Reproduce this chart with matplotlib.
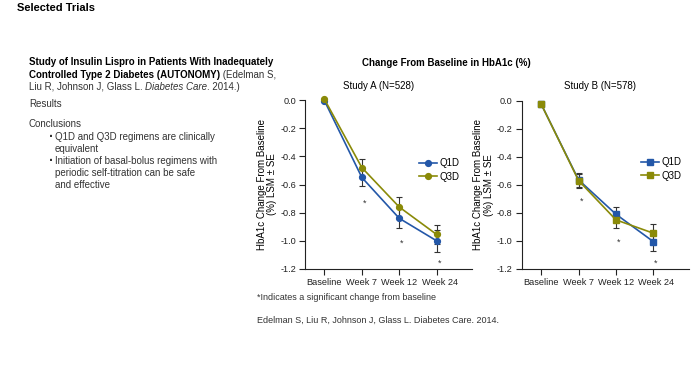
import matplotlib
matplotlib.use("Agg")
import matplotlib.pyplot as plt
import matplotlib.transforms as mtransforms
import numpy as np

plt.rcParams['font.family'] = ['Liberation Sans', 'DejaVu Sans']

timepoints = ["Baseline", "Week 7", "Week 12", "Week 24"]
series_names = ["Q1D", "Q3D"]

# Study A (N=528)
a_q1d = [-0.005, -0.55, -0.84, -1.00]
a_q1d_se = [0.0, 0.06, 0.07, 0.08]
a_q3d = [0.005, -0.48, -0.76, -0.955]
a_q3d_se = [0.0, 0.06, 0.07, 0.07]
a_sig = [None, -0.72, -1.01, -1.15]

# Study B (N=578)
b_q1d = [-0.025, -0.565, -0.81, -1.005]
b_q1d_se = [0.0, 0.05, 0.05, 0.07]
b_q3d = [-0.025, -0.57, -0.85, -0.945]
b_q3d_se = [0.0, 0.05, 0.055, 0.065]
b_sig = [None, -0.71, -1.00, -1.15]

yticks = [0.0, -0.2, -0.4, -0.6, -0.8, -1.0, -1.2]

c_q1d = "#2357a8"
c_q3d = "#8a8a08"
c_err = "#333333"

W, H = 700, 375
fig = plt.figure(figsize=(7, 3.75), dpi=100)

def fx(px):
    return px / W

def fy(py):
    return 1 - py / H

def draw(ax, q1, q1se, q3, q3se, sig, marker, title, title_x, xlim, legend_pos):
    x = np.arange(len(timepoints))
    for vals, se, col, name in [(q1, q1se, c_q1d, "Q1D"), (q3, q3se, c_q3d, "Q3D")]:
        ax.errorbar(x[1:], vals[1:], yerr=se[1:], fmt='none', ecolor=c_err,
                    elinewidth=0.8, capsize=2.5, capthick=0.8, zorder=2, clip_on=False)
        ax.plot(x, vals, color=col, marker=marker, markersize=4.2, linewidth=1.2,
                label=name, zorder=3, clip_on=False)
    for xi, s in zip(x, sig):
        if s is not None:
            ax.text(xi + 0.07, s - 0.01, "*", fontsize=6.5, ha='center', va='center', color='#333333')
    ax.set_xlim(*xlim)
    ax.set_ylim(-1.2, 0.0)
    ax.set_yticks(yticks)
    ax.set_yticklabels([f"{t:.1f}".replace("-0.0", "0.0") for t in yticks])
    ax.set_xticks(x)
    ax.set_xticklabels(timepoints)
    for s in ['top', 'right']:
        ax.spines[s].set_visible(False)
    for s in ['left', 'bottom']:
        ax.spines[s].set_linewidth(0.8)
        ax.spines[s].set_color('#222222')
    ax.tick_params(axis='both', labelsize=6.6, length=4, width=0.8, pad=2.5, colors='#222222')
    lbl = ax.get_xticklabels()[-1]
    lbl.set_transform(lbl.get_transform() + mtransforms.ScaledTranslation(3 / 100, 0, fig.dpi_scale_trans))
    ax.set_ylabel("HbA1c Change From Baseline\n(%) LSM ± SE", fontsize=7, labelpad=2, linespacing=1.1)
    ax.set_title(title, fontsize=7, pad=8, x=title_x)
    ax.legend(loc='center left', bbox_to_anchor=legend_pos, bbox_transform=fig.transFigure,
              frameon=False, fontsize=7, handlelength=1.8, handletextpad=0.3,
              labelspacing=0.35, borderpad=0, borderaxespad=0)

xl = (-0.52, 3.95)
ax_w = (xl[1] - xl[0]) * 37.4

# Axes A
axA = fig.add_axes([fx(305), fy(269), fx(ax_w), (269 - 100) / H])
draw(axA, a_q1d, a_q1d_se, a_q3d, a_q3d_se, a_sig, 'o', "Study A (N=528)", (378.3 - 305) / ax_w,
     xl, (fx(419), fy(170)))

# Axes B
axB = fig.add_axes([fx(521.7), fy(269), fx(ax_w), (269 - 100.5) / H])
draw(axB, b_q1d, b_q1d_se, b_q3d, b_q3d_se, b_sig, 's', "Study B (N=578)", (600.5 - 521.7) / ax_w,
     xl, (fx(641), fy(169)))

fig.text(fx(446.7), fy(63), "Change From Baseline in HbA1c (%)", fontsize=7, fontweight='bold',
         ha='center', va='center')

# Left panel text
fig.text(fx(17), fy(8), "Selected Trials", fontsize=8, fontweight='bold', ha='left', va='center')

renderer = fig.canvas.get_renderer()

def runs(x_px, y_px, pieces, size=7):
    x = x_px
    for txt, kw in pieces:
        t = fig.text(fx(x), fy(y_px), txt, fontsize=size, ha='left', va='center', **kw)
        bb = t.get_window_extent(renderer=renderer)
        x += bb.width

runs(29, 62, [("Study of Insulin Lispro in Patients With Inadequately", dict(fontweight='bold'))])
runs(29, 74.5, [("Controlled Type 2 Diabetes (AUTONOMY)", dict(fontweight='bold')),
                (" (Edelman S,", dict(color='#333333'))])
runs(29, 86.5, [("Liu R, Johnson J, Glass L. ", dict(color='#333333')),
                ("Diabetes Care", dict(style='italic', color='#333333')),
                (". 2014.)", dict(color='#333333'))])

fig.text(fx(29), fy(104), "Results", fontsize=7, color='#333333', ha='left', va='center')
fig.text(fx(29), fy(124), "Conclusions", fontsize=7, color='#333333', ha='left', va='center')

bullets = [
    ["Q1D and Q3D regimens are clinically", "equivalent"],
    ["Initiation of basal-bolus regimens with", "periodic self-titration can be safe", "and effective"],
]
y = 137
for b in bullets:
    fig.text(fx(51), fy(y), "·", fontsize=10, fontweight='bold', color='#333333', ha='center', va='center')
    for line in b:
        fig.text(fx(55), fy(y), line, fontsize=7, color='#333333', ha='left', va='center')
        y += 12

fig.text(fx(256.7), fy(298), "*Indicates a significant change from baseline", fontsize=6.5,
         color='#333333', ha='left', va='center')
fig.text(fx(256.7), fy(320), "Edelman S, Liu R, Johnson J, Glass L. Diabetes Care. 2014.", fontsize=6.5,
         color='#333333', ha='left', va='center')

fig.savefig("out.png", dpi=100)
